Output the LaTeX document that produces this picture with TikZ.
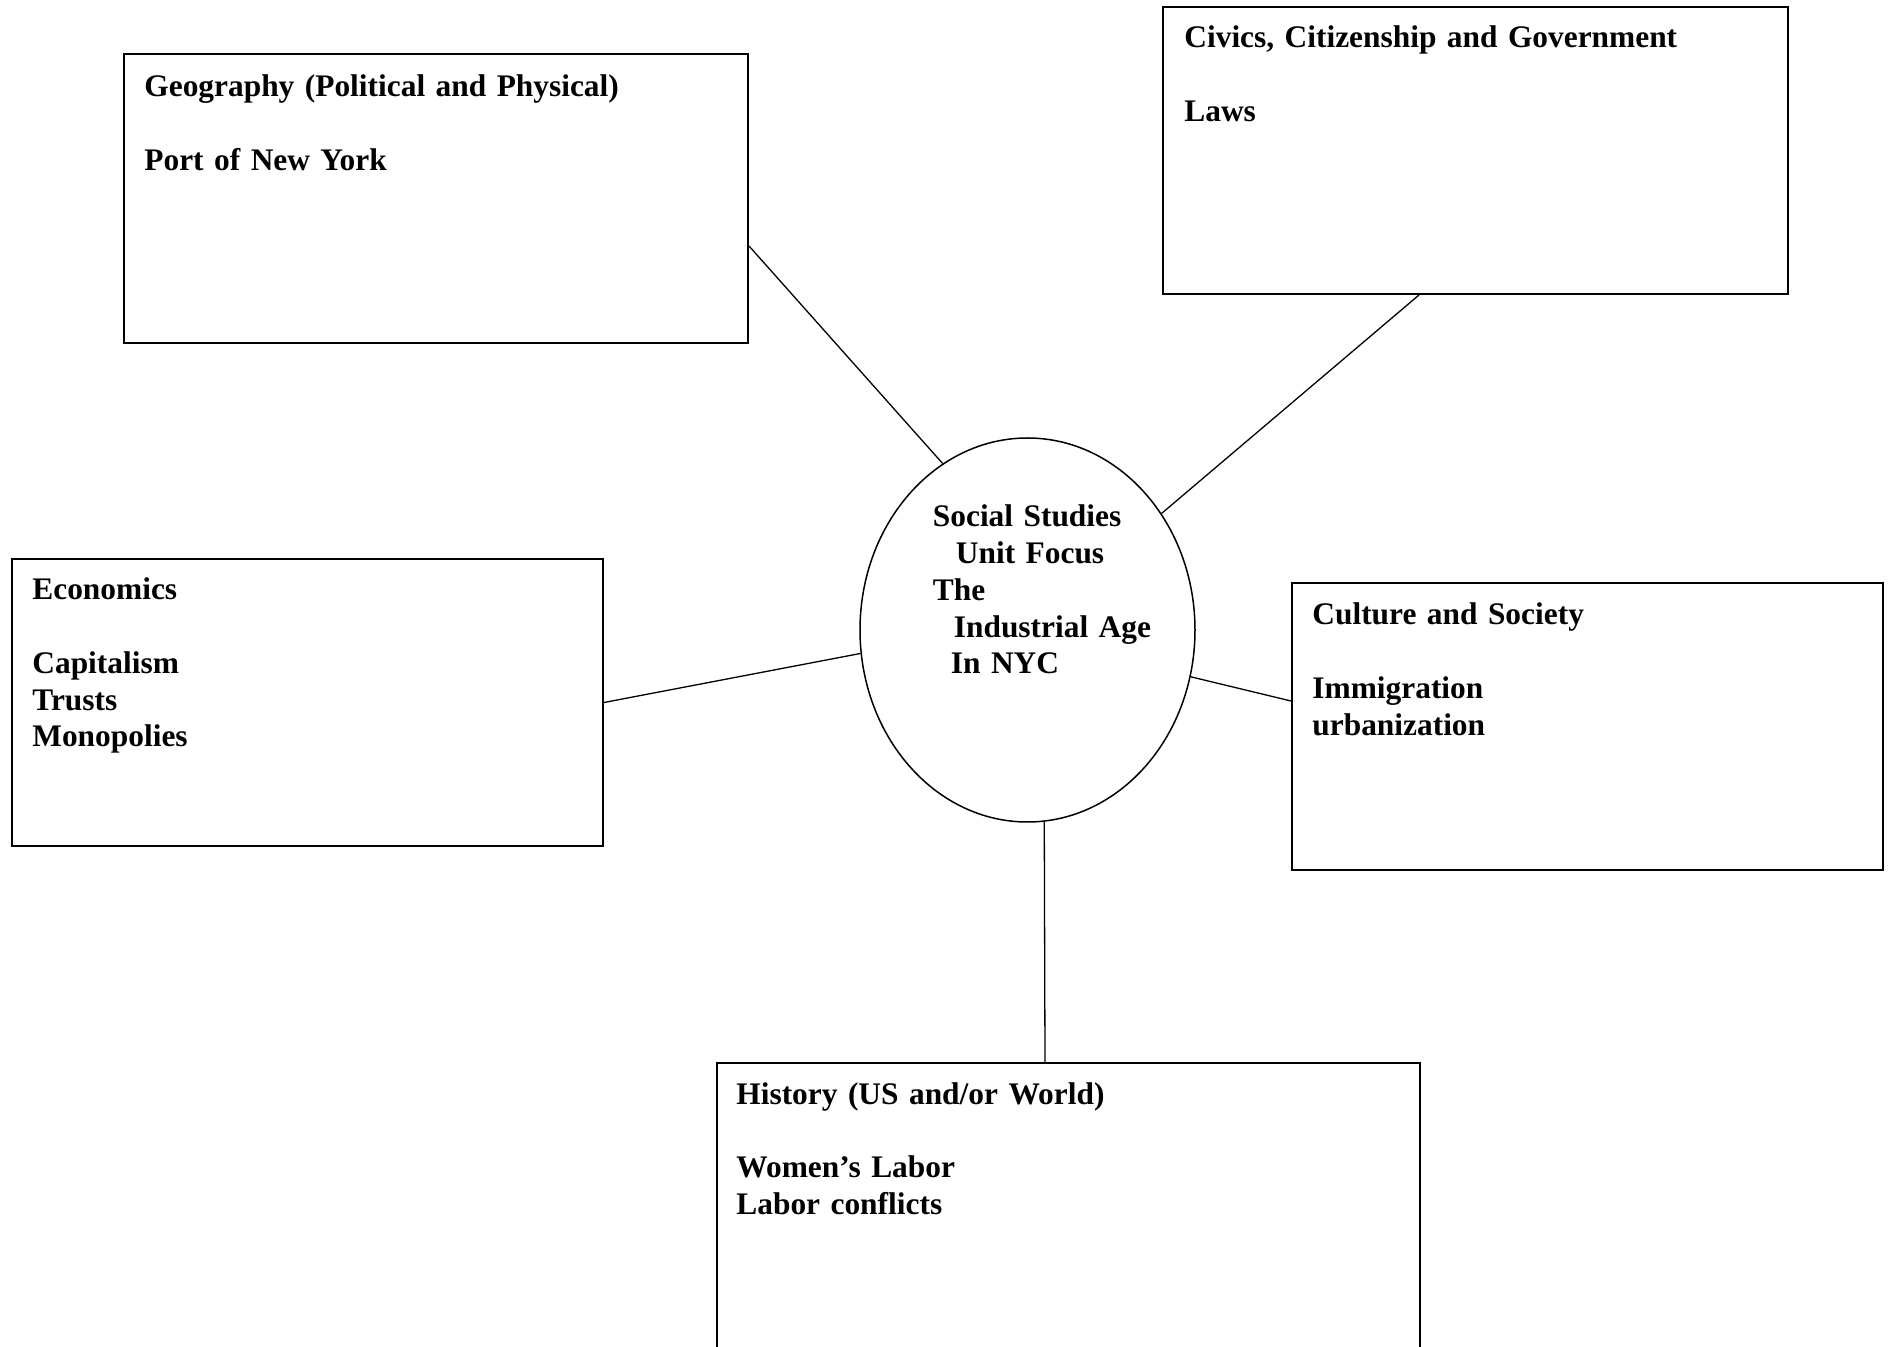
\documentclass[tikz,border=0pt]{standalone}
\usepackage{fontspec}
\setmainfont{Liberation Serif}
\usetikzlibrary{shapes.geometric,calc}

\newcommand{\topicfont}{\fontsize{15.7}{18.35}\selectfont\bfseries}

\tikzset{
  topicbox/.style={draw, line width=1pt, rectangle, inner sep=0pt},
  topictext/.style={anchor=base west, inner sep=0pt, text width=290pt, align=left, font=\topicfont},
  link/.style={line width=0.65pt}
}

\begin{document}
\begin{tikzpicture}[x=0.5pt, y=-0.5pt]
  \useasboundingbox (0,0) rectangle (1892,1347);

  % centre
  \node (focus) at (1027.5,630) [ellipse, draw, line width=0.75pt, minimum width=167.5pt, minimum height=192pt, inner sep=0pt] {};
  \node (focustext) at ($(focus.center)+(-95,-103)$) [topictext] {Social Studies\\
    \hspace*{11.5pt}Unit Focus\\
    The\\
    \hspace*{10.5pt}Industrial Age\\
    \hspace*{9pt}In NYC};

  % topic boxes
  \node (geo) at (436,198.5) [topicbox, minimum width=312pt, minimum height=144.5pt] {};
  \node (civics) at (1475.5,150.5) [topicbox, minimum width=312.5pt, minimum height=143.5pt] {};
  \node (econ) at (307.5,702.5) [topicbox, minimum width=295.5pt, minimum height=143.5pt] {};
  \node (culture) at (1587.5,726.5) [topicbox, minimum width=295.5pt, minimum height=143.5pt] {};
  \node (history) at (1068.5,1208) [topicbox, minimum width=351.5pt, minimum height=145pt] {};

  \node (geotext) at ($(geo.north west)+(21,44)$) [topictext] {Geography (Political and Physical)\\[18.35pt]Port of New York};
  \node (civicstext) at ($(civics.north west)+(22,42)$) [topictext] {Civics, Citizenship and Government\\[18.35pt]Laws};
  \node (econtext) at ($(econ.north west)+(21,42)$) [topictext] {Economics\\[18.35pt]Capitalism\\Trusts\\Monopolies};
  \node (culturetext) at ($(culture.north west)+(21,43)$) [topictext] {Culture and Society\\[18.35pt]Immigration\\urbanization};
  \node (historytext) at ($(history.north west)+(20,42)$) [topictext] {History (US and/or World)\\[18.35pt]Women’s Labor\\Labor conflicts};

  % spokes
  \draw[link] ($(geo.east)+(0,47.5)$) -- (focus.117.6);
  \draw[link] ($(civics.south)+(-56.5,0)$) -- (focus.41);
  \draw[link] (econ.east) -- (focus.188.5);
  \draw[link] ($(culture.west)+(0,-25.5)$) -- (focus.-16.3);
  \draw[link] ($(history.north)+(-23.5,0)$) -- (focus.-85.7);
\end{tikzpicture}
\end{document}
